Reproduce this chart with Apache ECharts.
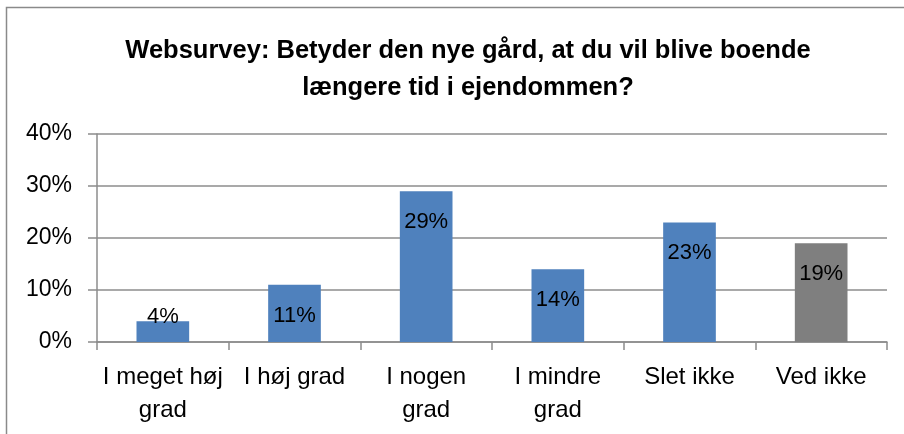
<!DOCTYPE html>
<html>
<head>
<meta charset="utf-8">
<script src="https://cdn.jsdelivr.net/npm/echarts@6/dist/echarts.min.js"></script>
<style>
  html, body { margin: 0; padding: 0; background: #fff; }
  #chart { width: 904px; height: 434px; }
</style>
</head>
<body>
<div id="chart"></div>
<script>
const titleText = "Websurvey: Betyder den nye gård, at du vil blive boende\nlængere tid i ejendommen?";
const categories = ["I meget høj\ngrad", "I høj grad", "I nogen\ngrad", "I mindre\ngrad", "Slet ikke", "Ved ikke"];
const values = [4, 11, 29, 14, 23, 19];
const yTicks = [0, 10, 20, 30, 40];

const FONT = "'Liberation Sans', Arial, sans-serif";
const BLUE = "#4F81BD";
const GREY = "#7F7F7F";
const AXIS = "#8C8C8C";

const myChart = echarts.init(document.getElementById("chart"), null, { renderer: "canvas" });

// last category ("Ved ikke") is drawn grey, the rest blue
const barData = values.map((v, i) => {
  const item = {
    value: v,
    itemStyle: { color: i === values.length - 1 ? GREY : BLUE }
  };
  // too short for the label to sit inside the top, Excel pushes it up
  if (v < 6) {
    item.label = { position: "insideBottom", distance: 14 };
  }
  return item;
});

const option = {
  animation: false,
  textStyle: { fontFamily: FONT },
  title: {
    text: titleText,
    left: 463,
    textAlign: "center",
    top: 27,
    textStyle: {
      fontFamily: FONT,
      fontSize: 25.5,
      fontWeight: "bold",
      color: "#000",
      lineHeight: 37
    }
  },
  graphic: [
    {
      type: "rect",
      shape: { x: 6.5, y: 7.5, width: 920, height: 460 },
      style: { fill: "none", stroke: "#8A8A8A", lineWidth: 1.5 },
      silent: true
    }
  ],
  grid: {
    left: 97,
    right: 17,
    top: 134,
    bottom: 92
  },
  xAxis: {
    type: "category",
    data: categories,
    axisLine: { show: true, lineStyle: { color: AXIS, width: 1.5 } },
    axisTick: { show: true, alignWithLabel: false, length: 8, lineStyle: { color: AXIS, width: 1.5 } },
    axisLabel: {
      color: "#000",
      fontSize: 24,
      fontFamily: FONT,
      lineHeight: 33,
      margin: 19,
      interval: 0
    }
  },
  yAxis: {
    type: "value",
    min: yTicks[0],
    max: yTicks[yTicks.length - 1],
    interval: 10,
    axisLine: { show: true, lineStyle: { color: AXIS, width: 1.5 } },
    axisTick: { show: true, inside: false, length: 9, lineStyle: { color: AXIS, width: 1.5 } },
    axisLabel: {
      formatter: "{value}%",
      color: "#000",
      fontSize: 23,
      fontFamily: FONT,
      margin: 25
    },
    splitLine: { show: true, lineStyle: { color: AXIS, width: 1.5 } }
  },
  series: [
    {
      type: "bar",
      data: barData,
      barWidth: "40%",
      label: {
        show: true,
        position: "insideTop",
        distance: 20,
        formatter: "{c}%",
        color: "#000",
        fontSize: 22,
        fontFamily: FONT
      }
    }
  ]
};

myChart.setOption(option);
</script>
</body>
</html>
